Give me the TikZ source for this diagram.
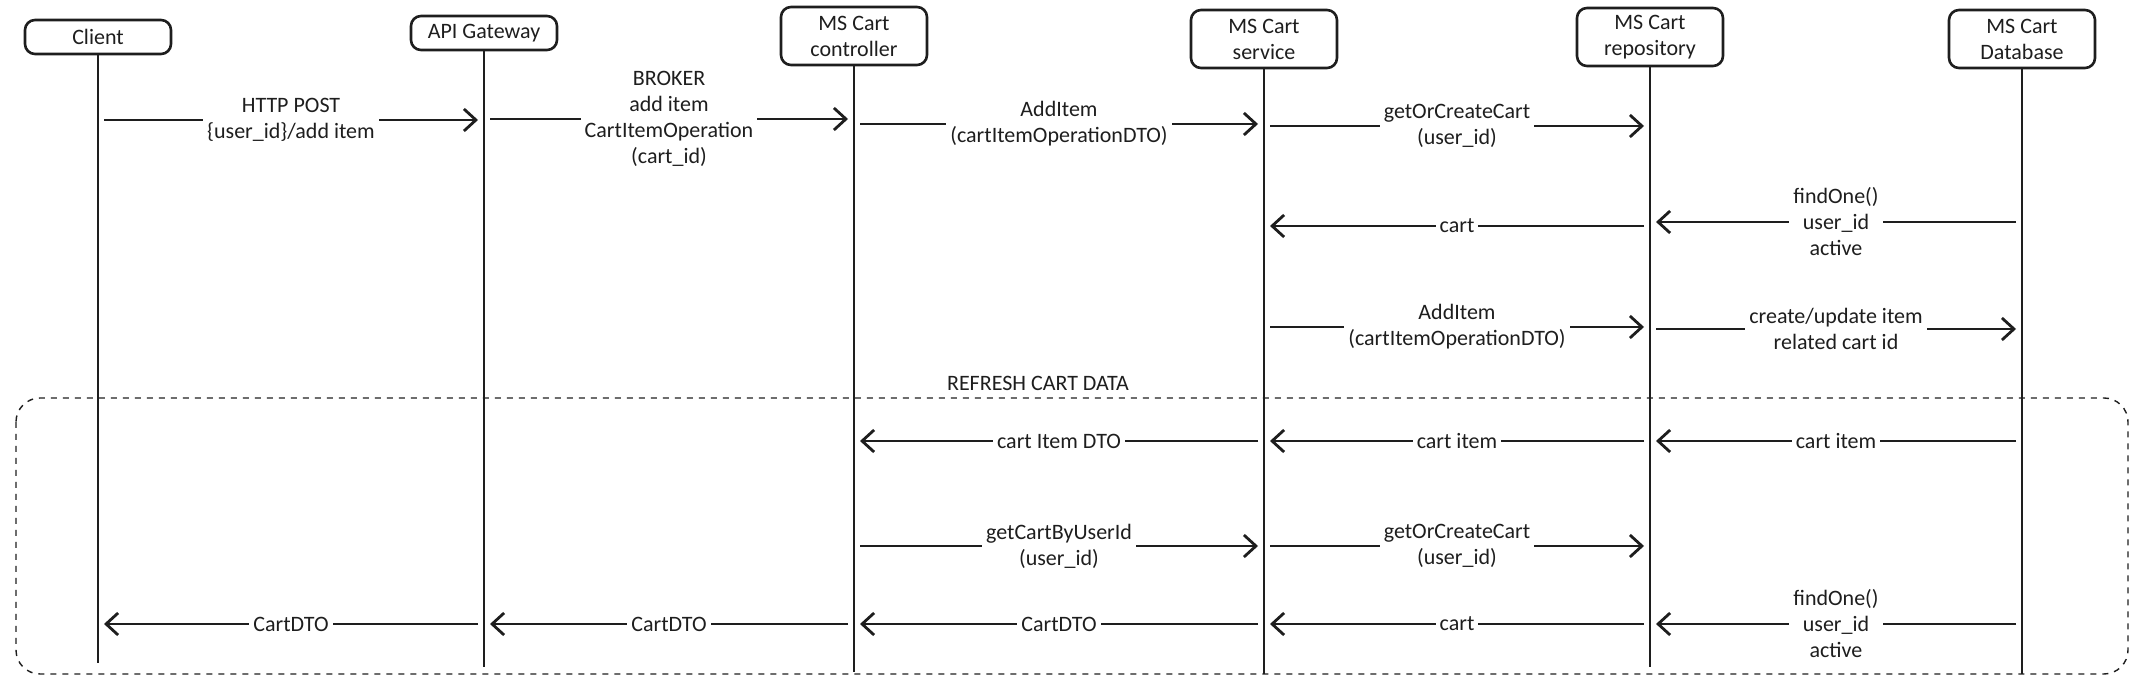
\documentclass[tikz,border=0pt]{standalone}
\usepackage{fontspec}
\setmainfont{Carlito}
\usetikzlibrary{arrows.meta,positioning}
\definecolor{ink}{HTML}{1E1E1E}
\tikzset{
>={Straight Barb[length=6pt,width=11pt]},
actor/.style={draw=ink,line width=1.3pt,rounded corners=5pt,minimum width=73pt,align=center,inner sep=2pt,text=ink},
lifeline/.style={draw=ink,line width=1.2pt},
freccia/.style={->,color=ink,line width=1.4pt,shorten >=3pt,shorten <=3pt},
lbl/.style={fill=white,text=ink,align=center,inner sep=2pt},
gruppo/.style={draw=ink,dashed,line width=0.7pt,rounded corners=12pt}}

\begin{document}
\begin{tikzpicture}[x=0.5pt,y=-0.5pt,font=\fontsize{11}{13}\selectfont]
\useasboundingbox (0,0) rectangle (2136,688);

% heads of the lifelines
\node[actor,minimum height=17pt] (cl)   at (98,37)   {Client};
\node[actor,minimum height=17pt] (gw)   at (484,33)  {API Gateway};
\node[actor,minimum height=29pt] (ctl)  at (854,36)  {MS Cart\\controller};
\node[actor,minimum height=29pt] (svc)  at (1264,39) {MS Cart\\service};
\node[actor,minimum height=29pt] (repo) at (1650,37) {MS Cart\\repository};
\node[actor,minimum height=29pt] (db)   at (2022,39) {MS Cart\\Database};

\foreach \n/\b in {cl/663,gw/667,ctl/672,svc/674,repo/667,db/674}
  \draw[lifeline] (\n.south) -- (\n |- 0,\b);

% refresh group
\draw[gruppo] (16,398) rectangle (2128,674);
\node[text=ink] (refresh) at (1038,383) {REFRESH CART DATA};

% add item
\path[freccia] (cl |- 0,120) edge node[lbl] {HTTP POST\\\{user\_id\}/add item} (gw |- 0,120);
\path[freccia] (gw |- 0,119) edge node[lbl] {BROKER\\add item\\CartItemOperation\\(cart\_id)} (ctl |- 0,119);
\path[freccia] (ctl |- 0,124) edge node[lbl] {AddItem\\(cartItemOperationDTO)} (svc |- 0,124);
\path[freccia] (svc |- 0,126) edge node[lbl] {getOrCreateCart\\(user\_id)} (repo |- 0,126);

\path[freccia] (db |- 0,222) edge node[lbl] {findOne()\\user\_id\\active} (repo |- 0,222);
\path[freccia] (repo |- 0,226) edge node[lbl] {cart} (svc |- 0,226);

\path[freccia] (svc |- 0,327) edge node[lbl] {AddItem\\(cartItemOperationDTO)} (repo |- 0,327);
\path[freccia] (repo |- 0,329) edge node[lbl] {create/update item\\related cart id} (db |- 0,329);

% refresh cart data
\path[freccia] (db |- 0,441) edge node[lbl] {cart item} (repo |- 0,441);
\path[freccia] (repo |- 0,441) edge node[lbl] {cart item} (svc |- 0,441);
\path[freccia] (svc |- 0,441) edge node[lbl] {cart Item DTO} (ctl |- 0,441);

\path[freccia] (ctl |- 0,546) edge node[lbl] {getCartByUserId\\(user\_id)} (svc |- 0,546);
\path[freccia] (svc |- 0,546) edge node[lbl] {getOrCreateCart\\(user\_id)} (repo |- 0,546);

\path[freccia] (db |- 0,624) edge node[lbl] {findOne()\\user\_id\\active} (repo |- 0,624);
\path[freccia] (repo |- 0,624) edge node[lbl] {cart} (svc |- 0,624);
\path[freccia] (svc |- 0,624) edge node[lbl] {CartDTO} (ctl |- 0,624);
\path[freccia] (ctl |- 0,624) edge node[lbl] {CartDTO} (gw |- 0,624);
\path[freccia] (gw |- 0,624) edge node[lbl] {CartDTO} (cl |- 0,624);

\end{tikzpicture}
\end{document}
